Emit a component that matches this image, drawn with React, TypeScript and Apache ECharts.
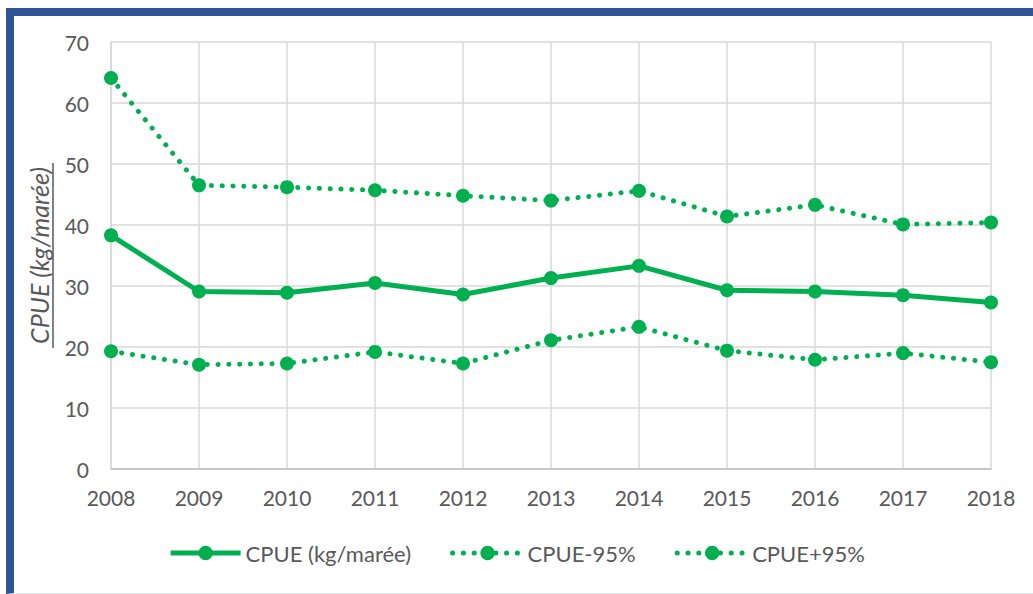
import React, { useEffect, useRef } from "react";
import * as echarts from "echarts";

const years = ["2008", "2009", "2010", "2011", "2012", "2013", "2014", "2015", "2016", "2017", "2018"];
const cpue = [38.3, 29.1, 28.9, 30.5, 28.6, 31.3, 33.3, 29.3, 29.1, 28.5, 27.3];
const cpueLow = [19.3, 17.1, 17.3, 19.2, 17.3, 21.1, 23.3, 19.4, 17.9, 19.0, 17.5];
const cpueHigh = [64.1, 46.5, 46.2, 45.7, 44.8, 44.0, 45.6, 41.4, 43.3, 40.1, 40.4];
const seriesNames = ["CPUE (kg/marée)", "CPUE-95%", "CPUE+95%"];
const yAxisTitle = "CPUE (kg/marée)";

const GREEN = "#00B050";
const FONT = "Lato, 'Open Sans', sans-serif";
const TEXT = "#595959";

export default function App() {
  const ref = useRef<HTMLDivElement>(null);
  useEffect(() => {
    if (!ref.current) return;
    const chart = echarts.init(ref.current, undefined, { renderer: "svg" });
    const dotted = {
      width: 5,
      color: GREEN,
      type: [0.1, 10.7] as any,
      cap: "round" as const,
    };
    chart.setOption({
      animation: false,
      backgroundColor: "#ffffff",
      textStyle: { fontFamily: FONT },
      grid: { left: 111, right: 42, top: 42, bottom: 125 },
      legend: {
        bottom: 25,
        left: "center",
        itemWidth: 70,
        itemHeight: 18,
        itemGap: 39,
        lineStyle: { width: "inherit" },
        textStyle: { fontSize: 22, color: TEXT, fontFamily: FONT },
        data: seriesNames,
      },
      xAxis: {
        type: "category",
        data: years,
        boundaryGap: false,
        axisLine: { lineStyle: { color: "#bfbfbf", width: 1.5 } },
        axisTick: { show: false },
        axisLabel: { fontSize: 21, color: TEXT, margin: 18, fontFamily: FONT },
        splitLine: { show: true, lineStyle: { color: "#d9d9d9", width: 1.5 } },
      },
      yAxis: {
        type: "value",
        min: 0,
        max: 70,
        interval: 10,
        name: yAxisTitle,
        nameLocation: "middle",
        nameGap: 60,
        nameTextStyle: { fontSize: 25, color: TEXT, fontStyle: "italic", fontFamily: FONT },
        axisLine: { show: true, lineStyle: { color: "#d9d9d9", width: 1.5 } },
        axisTick: { show: false },
        axisLabel: { fontSize: 21, color: TEXT, margin: 22, fontFamily: FONT },
        splitLine: { lineStyle: { color: "#d9d9d9", width: 1.5 } },
      },
      graphic: [
        {
          type: "line",
          shape: { x1: 53, y1: 163, x2: 53, y2: 348 },
          style: { stroke: TEXT, lineWidth: 1.5 },
        },
      ],
      series: [
        {
          name: seriesNames[0],
          type: "line",
          data: cpue,
          symbol: "circle",
          symbolSize: 14,
          itemStyle: { color: GREEN },
          lineStyle: { width: 5, color: GREEN },
          z: 3,
        },
        {
          name: seriesNames[1],
          type: "line",
          data: cpueLow,
          symbol: "circle",
          symbolSize: 14,
          itemStyle: { color: GREEN },
          lineStyle: dotted,
        },
        {
          name: seriesNames[2],
          type: "line",
          data: cpueHigh,
          symbol: "circle",
          symbolSize: 14,
          itemStyle: { color: GREEN },
          lineStyle: dotted,
        },
      ],
    });
    return () => chart.dispose();
  }, []);
  return (
    <div style={{ position: "fixed", left: 0, top: 0, width: 1033, height: 594, background: "#fff" }}>
      <div ref={ref} style={{ position: "absolute", left: 0, top: 0, width: 1033, height: 594 }} />
      <div
        style={{
          position: "absolute",
          left: 6,
          top: 8,
          right: 0,
          bottom: 0,
          borderTop: "8px solid #2F5597",
          borderLeft: "8px solid #2F5597",
          borderBottom: "1px solid #e4e4ee",
          boxSizing: "border-box",
          pointerEvents: "none",
        }}
      />
    </div>
  );
}
